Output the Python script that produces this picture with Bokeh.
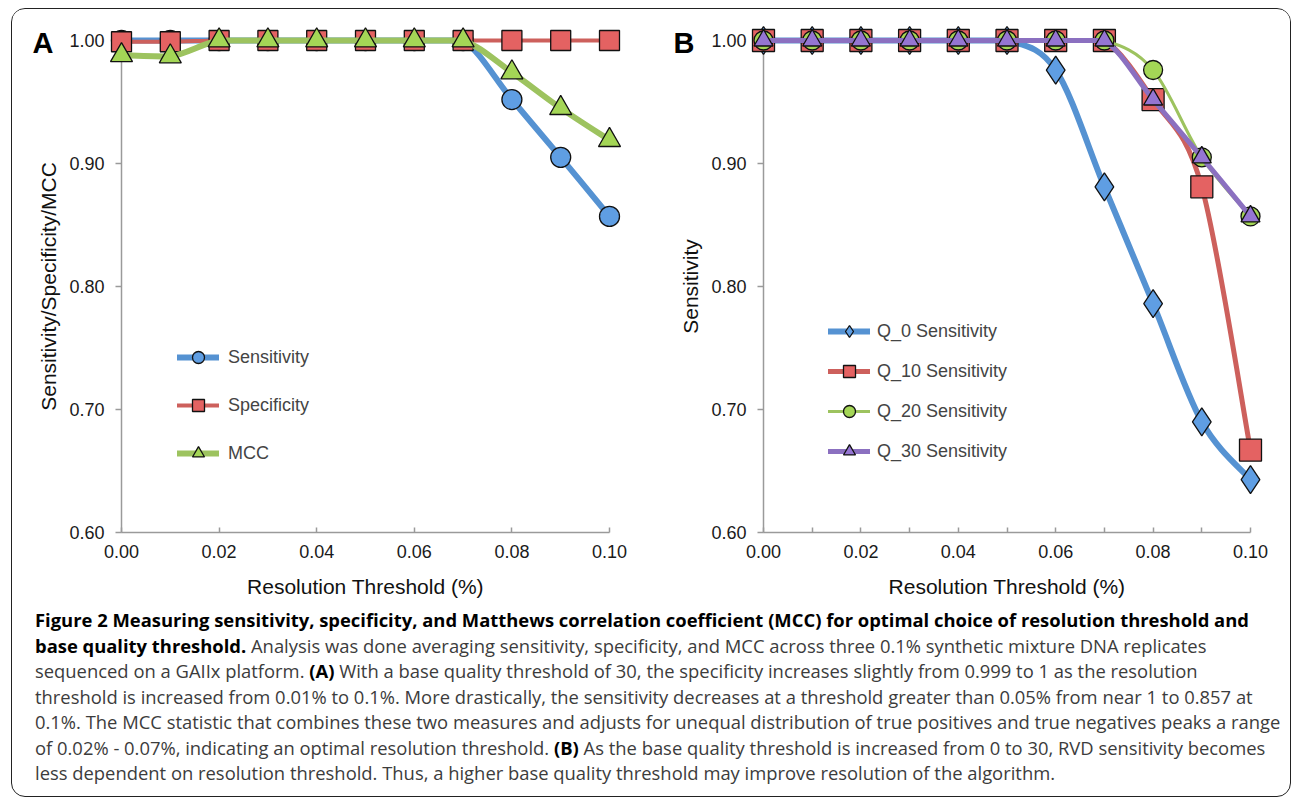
import numpy as np
from bokeh.plotting import figure
from bokeh.models import Range1d, FixedTicker, NumeralTickFormatter, Legend, LegendItem, Div
from bokeh.core.properties import value
from bokeh.layouts import row, column
from bokeh.embed import file_html
from bokeh.resources import INLINE

# ---------------- data ----------------
thresholds = [0.00, 0.01, 0.02, 0.03, 0.04, 0.05, 0.06, 0.07, 0.08, 0.09, 0.10]

sensitivity_a = [1.000, 1.000, 1.000, 1.000, 1.000, 1.000, 1.000, 1.000, 0.952, 0.905, 0.857]
specificity_a = [0.999, 0.999, 1.000, 1.000, 1.000, 1.000, 1.000, 1.000, 1.000, 1.000, 1.000]
mcc_a = [0.988, 0.987, 1.000, 1.000, 1.000, 1.000, 1.000, 1.000, 0.974, 0.945, 0.919]

q0_sens = [1.000, 1.000, 1.000, 1.000, 1.000, 1.000, 0.976, 0.881, 0.786, 0.690, 0.643]
q10_sens = [1.000, 1.000, 1.000, 1.000, 1.000, 1.000, 1.000, 1.000, 0.952, 0.881, 0.667]
q20_sens = [1.000, 1.000, 1.000, 1.000, 1.000, 1.000, 1.000, 1.000, 0.976, 0.905, 0.857]
q30_sens = [1.000, 1.000, 1.000, 1.000, 1.000, 1.000, 1.000, 1.000, 0.952, 0.905, 0.857]

y_ticks = [0.60, 0.70, 0.80, 0.90, 1.00]
x_ticks = [0.00, 0.02, 0.04, 0.06, 0.08, 0.10]
x_minor_ticks_b = [0.01, 0.03, 0.05, 0.07, 0.09]

labels_a = ["Sensitivity", "Specificity", "MCC"]
labels_b = ["Q_0 Sensitivity", "Q_10 Sensitivity", "Q_20 Sensitivity", "Q_30 Sensitivity"]

x_title = "Resolution Threshold (%)"
y_title_a = "Sensitivity/Specificity/MCC"
y_title_b = "Sensitivity"
panel_a = "A"
panel_b = "B"

FONT = "Liberation Sans"


def smooth(xs, ys):
    """Bezier control points (Excel-like smoothed line) derived from the data,
    clamped to each segment's y-span so flat runs stay flat."""
    xs = np.asarray(xs, float)
    ys = np.asarray(ys, float)
    n = len(xs)
    xp = np.concatenate([[xs[0]], xs, [xs[-1]]])
    yp = np.concatenate([[ys[0]], ys, [ys[-1]]])
    i = np.arange(n - 1)
    cx0 = xs[i] + (xp[i + 2] - xp[i]) / 6.0
    cy0 = ys[i] + (yp[i + 2] - yp[i]) / 6.0
    cx1 = xs[i + 1] - (xp[i + 3] - xp[i + 1]) / 6.0
    cy1 = ys[i + 1] - (yp[i + 3] - yp[i + 1]) / 6.0
    lo = np.minimum(ys[:-1], ys[1:])
    hi = np.maximum(ys[:-1], ys[1:])
    cy0 = np.clip(cy0, lo, hi)
    cy1 = np.clip(cy1, lo, hi)
    return dict(x0=xs[:-1], y0=ys[:-1], x1=xs[1:], y1=ys[1:], cx0=cx0, cy0=cy0, cx1=cx1, cy1=cy1)


def make_fig(width, mb_left, mb_right, minor):
    p = figure(width=width, height=591, output_backend="svg", toolbar_location=None,
               x_range=Range1d(0, 0.1), y_range=Range1d(0.6, 1.0),
               min_border_left=mb_left, min_border_right=mb_right,
               min_border_top=31, min_border_bottom=60)
    p.outline_line_color = None
    p.xgrid.visible = False
    p.ygrid.visible = False
    p.background_fill_color = "white"
    p.border_fill_color = "white"
    for ax in (p.xaxis[0], p.yaxis[0]):
        ax.axis_line_color = "#9a9a9a"
        ax.axis_line_width = 1.5
        ax.major_tick_line_color = "#9a9a9a"
        ax.major_tick_line_width = 1.5
        ax.minor_tick_line_color = "#9a9a9a"
        ax.minor_tick_line_width = 1.5
        ax.major_label_text_font = FONT
        ax.major_label_text_font_size = "18px"
        ax.major_label_text_color = "#1a1a1a"
        ax.axis_label_text_font = FONT
        ax.axis_label_text_font_size = "21px"
        ax.axis_label_text_font_style = "normal"
        ax.axis_label_text_color = "#111111"
        ax.formatter = NumeralTickFormatter(format="0.00")
    xa = p.xaxis[0]
    xa.ticker = FixedTicker(ticks=x_ticks, minor_ticks=x_minor_ticks_b if minor else [])
    xa.major_tick_in = 5
    xa.major_tick_out = 0
    xa.minor_tick_in = 5
    xa.minor_tick_out = 0
    xa.major_label_standoff = 12
    xa.axis_label = x_title
    xa.axis_label_standoff = 14
    ya = p.yaxis[0]
    ya.ticker = FixedTicker(ticks=y_ticks, minor_ticks=[])
    ya.major_tick_in = 0
    ya.major_tick_out = 6
    ya.minor_tick_in = 0
    ya.minor_tick_out = 0
    ya.major_label_standoff = 11
    ya.axis_label_standoff = 6
    return p


def add_series(p, ys, line_color, line_width, marker, size, fill):
    ln = p.bezier(line_color=line_color, line_width=line_width, line_cap="round",
                  **smooth(thresholds, ys))
    ln.level = "overlay"
    sc = p.scatter(thresholds, ys, marker=marker, size=size, fill_color=fill,
                   line_color="#111111", line_width=1.3)
    sc.level = "overlay"
    return ln, sc


def add_panel_letter(p, letter, x_pos):
    t = p.text(x=[x_pos], y=[0.998], text=[letter], text_font=value(FONT),
               text_font_style="bold", text_font_size="29px", text_baseline="middle",
               text_align="left", text_color="black")
    t.level = "overlay"


BLUE_L, BLUE_F = "#5592d2", "#5f9ee3"
RED_L, RED_F = "#cd605c", "#e46262"
GREEN_L, GREEN_F = "#9dc35f", "#a4d656"
PURPLE_L, PURPLE_F = "#8b70c0", "#9575d2"

# ---------------- panel A ----------------
pa = make_fig(640, 109, 43, minor=False)
pa.yaxis[0].axis_label = y_title_a
ra = [
    add_series(pa, sensitivity_a, BLUE_L, 6, "circle", 20, BLUE_F),
    add_series(pa, specificity_a, RED_L, 4, "square", 20, RED_F),
    add_series(pa, mcc_a, GREEN_L, 6, "triangle", 22, GREEN_F),
]
leg_a = Legend(items=[LegendItem(label=lab, renderers=list(r)) for lab, r in zip(labels_a, ra)],
               location=(56, 64), glyph_width=42, glyph_height=30, spacing=18, padding=0, margin=0,
               label_standoff=9, label_text_font=FONT, label_text_font_size="18px",
               border_line_alpha=0, background_fill_alpha=0)
pa.add_layout(leg_a)
add_panel_letter(pa, panel_a, -0.01824)

# ---------------- panel B ----------------
pb = make_fig(638, 111, 40, minor=True)
pb.yaxis[0].axis_label = y_title_b
rb = [
    add_series(pb, q0_sens, BLUE_L, 6, "diamond", 28, BLUE_F),
    add_series(pb, q10_sens, RED_L, 5, "square", 22, RED_F),
    add_series(pb, q20_sens, GREEN_L, 3, "circle", 19, GREEN_F),
    add_series(pb, q30_sens, PURPLE_L, 5, "triangle", 19, PURPLE_F),
]
leg_b = Legend(items=[LegendItem(label=lab, renderers=list(r)) for lab, r in zip(labels_b, rb)],
               location=(65, 66), glyph_width=42, glyph_height=30, spacing=10, padding=0, margin=0,
               label_standoff=7, label_text_font=FONT, label_text_font_size="18px",
               border_line_alpha=0, background_fill_alpha=0)
pb.add_layout(leg_b)
add_panel_letter(pb, panel_b, -0.01848)

# ---------------- caption ----------------
caption_lines = [
    "<b style='color:#000'>Figure 2 Measuring sensitivity, specificity, and Matthews correlation coefficient (MCC) for optimal choice of resolution threshold and</b>",
    "<b style='color:#000'>base quality threshold.</b> Analysis was done averaging sensitivity, specificity, and MCC across three 0.1% synthetic mixture DNA replicates",
    "sequenced on a GAIIx platform. <b style='color:#000'>(A)</b> With a base quality threshold of 30, the specificity increases slightly from 0.999 to 1 as the resolution",
    "threshold is increased from 0.01% to 0.1%. More drastically, the sensitivity decreases at a threshold greater than 0.05% from near 1 to 0.857 at",
    "0.1%. The MCC statistic that combines these two measures and adjusts for unequal distribution of true positives and true negatives peaks a range",
    "of 0.02% - 0.07%, indicating an optimal resolution threshold. <b style='color:#000'>(B)</b> As the base quality threshold is increased from 0 to 30, RVD sensitivity becomes",
    "less dependent on resolution threshold. Thus, a higher base quality threshold may improve resolution of the algorithm.",
]
caption_html = ("<div style=\"font-family:'Open Sans',sans-serif;"
                "font-size:18.4px;line-height:25.5px;color:#3c3c3c;white-space:nowrap;"
                "padding-left:18px;padding-top:2px;\">" + "<br>".join(caption_lines) + "</div>")
cap = Div(text=caption_html, width=1278, height=196)

layout = column(row(pa, pb), cap, width=1280, height=789, margin=(8, 0, 0, 11),
                styles={"border": "1.5px solid #222", "border-radius": "14px",
                        "background": "white", "overflow": "hidden"})

open("out.html", "w").write(file_html(layout, INLINE))
